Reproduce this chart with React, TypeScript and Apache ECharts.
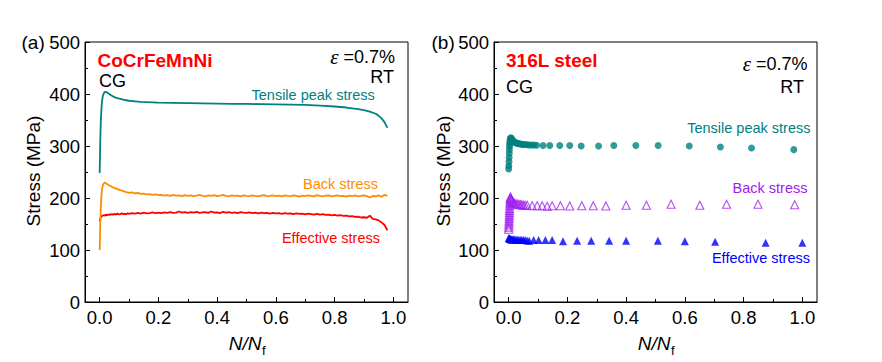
import React, { useEffect, useRef } from "react";
import * as echarts from "echarts";

// ---------------- data ----------------
const X_MAJOR = [0, 0.2, 0.4, 0.6, 0.8, 1.0];
const X_MINOR = [0.1, 0.3, 0.5, 0.7, 0.9];

// (a) CoCrFeMnNi – tensile peak stress
const LT_X = [0, 0.002, 0.004, 0.006, 0.008, 0.010, 0.013, 0.016, 0.020, 0.025, 0.030, 0.035, 0.040, 0.050, 0.060, 0.070, 0.080, 0.090, 0.100, 0.120, 0.140, 0.160, 0.200, 0.250, 0.300, 0.350, 0.400, 0.450, 0.500, 0.550, 0.600, 0.650, 0.700, 0.750, 0.800, 0.840, 0.880, 0.900, 0.920, 0.940, 0.950, 0.960, 0.970, 0.980];
const LT_Y = [248, 310, 350, 372, 386, 394, 400, 403, 404, 403, 401, 399, 397, 394, 392, 390.5, 389, 388, 387, 386, 385, 384.5, 383.5, 383, 382.5, 382, 381.5, 381, 381, 380.5, 380, 379.5, 379, 377.5, 376, 374, 371, 369, 366, 362, 358, 353, 346, 335];

// (a) shared x for back / effective stress
const LN_X = [
  0, 0.002, 0.004, 0.006, 0.008, 0.010, 0.013, 0.016, 0.019, 0.022, 0.026, 0.030, 0.035, 0.040, 0.045, 0.050, 0.055, 0.060, 0.065, 0.070, 0.075, 0.080, 0.085, 0.090, 0.095,
  0.10, 0.11, 0.12, 0.13, 0.14, 0.15, 0.16, 0.17, 0.18, 0.19,
  0.20, 0.21, 0.22, 0.23, 0.24, 0.25, 0.26, 0.27, 0.28, 0.29,
  0.30, 0.31, 0.32, 0.33, 0.34, 0.35, 0.36, 0.37, 0.38, 0.39,
  0.40, 0.41, 0.42, 0.43, 0.44, 0.45, 0.46, 0.47, 0.48, 0.49,
  0.50, 0.51, 0.52, 0.53, 0.54, 0.55, 0.56, 0.57, 0.58, 0.59,
  0.60, 0.61, 0.62, 0.63, 0.64, 0.65, 0.66, 0.67, 0.68, 0.69,
  0.70, 0.71, 0.72, 0.73, 0.74, 0.75, 0.76, 0.77, 0.78, 0.79,
  0.80, 0.81, 0.82, 0.83, 0.84, 0.85, 0.86, 0.87, 0.88, 0.89,
  0.90, 0.91, 0.92, 0.93, 0.94, 0.95, 0.96, 0.97, 0.98,
];
const LB_Y = [
  100, 150, 185, 205, 216, 223, 227, 229, 229.5, 228, 226.5, 225, 223.5, 222, 220.5, 219.5, 218, 217.5, 216, 215, 214.5, 213, 212.5, 211.5, 211,
  210, 211, 209, 210, 208, 208.5, 207, 207.5, 206, 207,
  205.5, 206, 204.5, 205.5, 204, 206, 204.5, 205, 203.5, 205.5,
  204, 205, 203.5, 204.5, 206, 204, 203, 205, 204, 205.5,
  203.5, 204.5, 206, 204, 203, 205, 204, 204.5, 203, 205,
  204, 203.5, 205, 204, 203, 204.5, 205.5, 203.5, 204, 205,
  203.5, 204.5, 203, 205, 204, 203.5, 205, 204, 202.5, 204.5,
  203.5, 205, 204, 203, 205.5, 204, 203, 204.5, 205, 203,
  204, 205, 203.5, 204, 202.5, 204.5, 203.5, 205, 203, 204,
  205, 203.5, 201, 204, 203, 205, 202.5, 206, 204,
];
const LE_Y = [
  155, 160, 163, 164, 165.5, 166, 166.5, 167, 166, 168, 167, 168.5, 167.5, 169, 168, 169.5, 168, 170, 168.5, 169, 170.5, 169, 170, 168.5, 170.5,
  169.5, 171, 170, 171.5, 170, 172, 170.5, 171, 172.5, 171,
  172, 171, 172.5, 171.5, 173, 171.5, 172, 174, 172, 173,
  171.5, 173, 172, 173.5, 171.5, 172.5, 173, 171.5, 174, 172,
  172.5, 171, 173.5, 172, 173, 171.5, 172.5, 171, 173, 172,
  171.5, 172.5, 171, 172, 170.5, 172, 171, 171.5, 170, 171.5,
  170.5, 171, 169.5, 171, 170, 170.5, 169, 170.5, 169.5, 170,
  168.5, 170, 169, 168, 169.5, 168, 169, 167.5, 168, 166.5,
  167.5, 166, 167, 165.5, 166, 164.5, 165, 163.5, 164, 162.5,
  163, 162, 166, 160, 159, 157, 153, 148, 138,
];

// (b) 316L steel
const RT_X = [0, 0.0005, 0.001, 0.0015, 0.002, 0.0025, 0.003, 0.0035, 0.004, 0.005, 0.006, 0.008, 0.010, 0.013, 0.016, 0.020, 0.025, 0.030, 0.035, 0.040, 0.045, 0.050, 0.056, 0.063, 0.070, 0.078, 0.086, 0.095, 0.117, 0.140, 0.174, 0.208, 0.247, 0.306, 0.358, 0.433, 0.509, 0.615, 0.721, 0.827, 0.971];
const RT_Y = [256, 262, 270, 278, 286, 293, 299, 304, 308, 312, 315, 316, 314, 311, 309, 307, 306, 305, 304.5, 304, 303.5, 303, 303, 302.5, 302, 302, 302, 301.5, 301, 301, 301, 301, 300, 300, 301, 301, 301, 300, 298, 296, 293];

const RB_X = [0, 0.0003, 0.0006, 0.0009, 0.0012, 0.0015, 0.0018, 0.0021, 0.0024, 0.0027, 0.003, 0.0035, 0.004, 0.0045, 0.005, 0.0055, 0.006, 0.008, 0.010, 0.013, 0.016, 0.020, 0.025, 0.030, 0.035, 0.040, 0.045, 0.050, 0.056, 0.063, 0.080, 0.097, 0.114, 0.131, 0.148, 0.176, 0.208, 0.249, 0.288, 0.331, 0.400, 0.469, 0.553, 0.651, 0.742, 0.849, 0.974];
const RB_Y = [140, 144, 148, 152, 156, 160, 164, 168, 172, 176, 180, 185, 189, 193, 197, 200, 202, 199, 196, 193, 191, 190, 189, 188, 188, 187, 187, 186, 186, 186, 185, 185, 185, 184, 185, 185, 184.5, 185, 185, 184.5, 186, 186, 188, 186, 188, 188, 187];

const RE_X = [0, 0.002, 0.004, 0.006, 0.008, 0.010, 0.013, 0.016, 0.020, 0.025, 0.030, 0.035, 0.040, 0.045, 0.050, 0.056, 0.063, 0.070, 0.085, 0.102, 0.125, 0.148, 0.185, 0.233, 0.281, 0.342, 0.400, 0.508, 0.600, 0.703, 0.875, 1.0];
const RE_Y = [123, 122, 121.5, 121, 120.5, 120, 120, 120, 120, 120, 119.5, 119.5, 119, 119, 119, 119, 118.5, 118, 119, 119, 119, 119, 117, 118, 118, 118, 118, 118, 117, 116, 114, 114];

// ---------------- styling ----------------
const FONT = "'Liberation Sans', Arial, sans-serif";
const TEAL = "#008080";
const ORANGE = "#FF8C00";
const RED = "#FF0000";
const PURPLE = "#A020F0";
const BLUE = "#0000FF";

const pairs = (xs: number[], ys: number[]) => xs.map((x, i) => [x, ys[i]]);

function txt(x: number, y: number, text: string, o: any = {}) {
  const align = o.align || "left";
  return {
    type: "text",
    x,
    y,
    rotation: o.rotation || 0,
    silent: true,
    style: {
      text,
      fill: o.fill || "#000",
      fontSize: o.size || 18,
      fontFamily: FONT,
      fontWeight: o.weight || "normal",
      fontStyle: o.style || "normal",
      textAlign: align,
      align,
      textVerticalAlign: "middle",
      verticalAlign: "middle",
      rich: o.rich,
    },
  };
}

function epsText(x: number, y: number) {
  return txt(x, y, "{e|ε} =0.7%", {
    align: "right",
    rich: {
      e: { fontFamily: "'Liberation Serif', serif", fontStyle: "italic", fontSize: 21, fill: "#000" },
    },
  });
}

function xAxes(grid: number) {
  return [
    {
      gridIndex: grid,
      type: "value",
      min: -0.05,
      max: 1.05,
      splitLine: { show: false },
      axisLine: { onZero: false, lineStyle: { color: "#000", width: 1 } },
      axisTick: { inside: true, length: 5, customValues: X_MAJOR, lineStyle: { color: "#000" } },
      axisLabel: {
        customValues: X_MAJOR,
        formatter: (v: number) => v.toFixed(1),
        fontSize: 18.5,
        fontFamily: FONT,
        color: "#000",
        margin: 6,
      },
    },
    {
      gridIndex: grid,
      type: "value",
      position: "bottom",
      min: -0.05,
      max: 1.05,
      splitLine: { show: false },
      axisLine: { show: false, onZero: false },
      axisTick: { inside: true, length: 3, customValues: X_MINOR, lineStyle: { color: "#000" } },
      axisLabel: { show: false },
    },
  ];
}

function yAxis(grid: number) {
  return {
    gridIndex: grid,
    type: "value",
    min: 0,
    max: 500,
    interval: 100,
    splitLine: { show: false },
    axisLine: { show: true, onZero: false, lineStyle: { color: "#000", width: 1 } },
    axisTick: { inside: true, length: 5, lineStyle: { color: "#000" } },
    minorTick: { show: true, splitNumber: 2, length: 3, lineStyle: { color: "#000" } },
    axisLabel: { fontSize: 18.5, fontFamily: FONT, color: "#000", margin: 5 },
  };
}

export default function App() {
  const ref = useRef<HTMLDivElement>(null);

  useEffect(() => {
    if (!ref.current) return;
    const chart = echarts.init(ref.current, null, { renderer: "svg" });
    const grids = [
      { left: 85, top: 42, width: 323, height: 260, show: true, borderColor: "#000", borderWidth: 1, backgroundColor: "transparent" },
      { left: 494, top: 42, width: 323, height: 260, show: true, borderColor: "#000", borderWidth: 1, backgroundColor: "transparent" },
    ];
    const option: any = {
      animation: false,
      backgroundColor: "#fff",
      grid: grids,
      xAxis: [...xAxes(0), ...xAxes(1)],
      yAxis: [yAxis(0), yAxis(1)],
      series: [
        {
          name: "Effective stress",
          type: "line",
          xAxisIndex: 0,
          yAxisIndex: 0,
          showSymbol: false,
          data: pairs(LN_X, LE_Y),
          lineStyle: { color: RED, width: 1.8 },
          itemStyle: { color: RED },
        },
        {
          name: "Back stress",
          type: "line",
          xAxisIndex: 0,
          yAxisIndex: 0,
          showSymbol: false,
          data: pairs(LN_X, LB_Y),
          lineStyle: { color: ORANGE, width: 1.8 },
          itemStyle: { color: ORANGE },
        },
        {
          name: "Tensile peak stress",
          type: "line",
          xAxisIndex: 0,
          yAxisIndex: 0,
          showSymbol: false,
          data: pairs(LT_X, LT_Y),
          lineStyle: { color: TEAL, width: 1.8 },
          itemStyle: { color: TEAL },
        },
        {
          name: "Tensile peak stress (316L)",
          type: "scatter",
          xAxisIndex: 2,
          yAxisIndex: 1,
          symbol: "circle",
          symbolSize: 7,
          data: pairs(RT_X, RT_Y),
          itemStyle: { color: TEAL },
        },
        {
          name: "Back stress (316L)",
          type: "scatter",
          xAxisIndex: 2,
          yAxisIndex: 1,
          symbol: "triangle",
          symbolSize: 8,
          data: pairs(RB_X, RB_Y),
          itemStyle: { color: "rgba(0,0,0,0)", borderColor: PURPLE, borderWidth: 1.1 },
        },
        {
          name: "Effective stress (316L)",
          type: "scatter",
          xAxisIndex: 2,
          yAxisIndex: 1,
          symbol: "triangle",
          symbolSize: 8,
          data: pairs(RE_X, RE_Y),
          itemStyle: { color: BLUE },
        },
      ],
      graphic: [
        // panel (a)
        txt(21.5, 42, "(a)", { size: 19 }),
        txt(97.5, 60, "CoCrFeMnNi", { size: 19, weight: "bold", fill: RED }),
        txt(99, 81, "CG"),
        epsText(395, 57),
        txt(394, 77, "RT", { align: "right" }),
        txt(251.5, 95, "Tensile peak stress", { size: 14.5, fill: TEAL }),
        txt(378, 183.5, "Back stress", { size: 14.5, fill: ORANGE, align: "right" }),
        txt(380, 237.5, "Effective stress", { size: 14.5, fill: RED, align: "right" }),
        txt(33, 171, "Stress (MPa)", { size: 19, align: "center", rotation: Math.PI / 2 }),
        txt(261.5, 343.5, "N/N", { size: 19, style: "italic", align: "right" }),
        txt(262, 350, "f", { size: 13 }),
        // panel (b)
        txt(431.5, 42, "(b)", { size: 19 }),
        txt(506, 60, "316L steel", { size: 19, weight: "bold", fill: RED }),
        txt(506, 87, "CG"),
        epsText(807.5, 63.5),
        txt(804, 87, "RT", { align: "right" }),
        txt(810.5, 128, "Tensile peak stress", { size: 14.5, fill: TEAL, align: "right" }),
        txt(807.5, 187.5, "Back stress", { size: 14.5, fill: PURPLE, align: "right" }),
        txt(810, 258, "Effective stress", { size: 14.5, fill: BLUE, align: "right" }),
        txt(443, 171, "Stress (MPa)", { size: 19, align: "center", rotation: Math.PI / 2 }),
        txt(670.5, 343.5, "N/N", { size: 19, style: "italic", align: "right" }),
        txt(671, 350, "f", { size: 13 }),
      ],
    };
    chart.setOption(option);
    return () => chart.dispose();
  }, []);

  return (
    <div
      ref={ref}
      style={{ position: "absolute", left: 0, top: 0, width: 882, height: 362 }}
    />
  );
}
